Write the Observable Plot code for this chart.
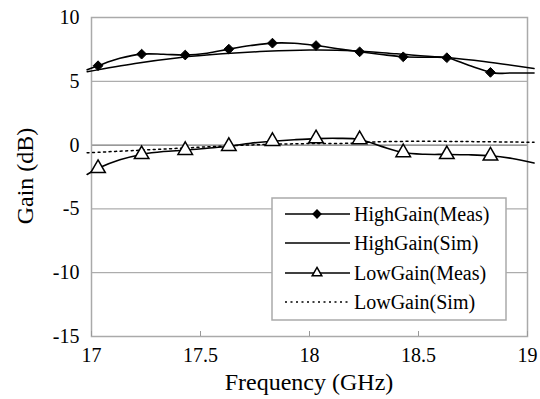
<!DOCTYPE html>
<html>
<head>
<meta charset="utf-8">
<script src="https://cdn.jsdelivr.net/npm/d3@7"></script>
<script src="https://cdn.jsdelivr.net/npm/@observablehq/plot@0.6"></script>
<style>
  html, body { margin: 0; padding: 0; background: #fff; }
  #chart { position: relative; width: 540px; height: 399px; }
  #chart svg, #chart svg text { font-family: "Liberation Serif", "Times New Roman", serif; }
</style>
</head>
<body>
<div id="chart"></div>
<script>
// Frequency (GHz) of the measured points
const measFreq = [17.03, 17.23, 17.43, 17.63, 17.83, 18.03, 18.23, 18.43, 18.63, 18.83];
// Measured gain at those points (dB)
const highMeas = [6.22, 7.13, 7.06, 7.52, 7.99, 7.80, 7.31, 6.92, 6.85, 5.70];
const lowMeas = [-1.82, -0.73, -0.40, -0.09, 0.30, 0.51, 0.44, -0.58, -0.73, -0.84];

// Measured traces (denser sampling of the connecting curves)
const highMeasCurveFreq = [16.98, 17.03, 17.13, 17.23, 17.33, 17.43, 17.53, 17.63, 17.73, 17.83, 17.93, 18.03, 18.13, 18.23, 18.33, 18.43, 18.53, 18.63, 18.73, 18.83, 18.87, 18.92, 19.03];
const highMeasCurve = [5.90, 6.22, 6.80, 7.13, 7.12, 7.06, 7.20, 7.52, 7.80, 7.99, 7.98, 7.80, 7.55, 7.31, 7.10, 6.92, 6.88, 6.85, 6.25, 5.70, 5.62, 5.65, 5.65];
const lowMeasCurveFreq = [16.98, 17.03, 17.13, 17.23, 17.33, 17.43, 17.53, 17.63, 17.73, 17.83, 17.93, 18.03, 18.13, 18.23, 18.33, 18.43, 18.53, 18.63, 18.73, 18.83, 18.93, 19.03];
const lowMeasCurve = [-2.30, -1.82, -1.15, -0.73, -0.50, -0.40, -0.25, -0.09, 0.15, 0.30, 0.42, 0.51, 0.53, 0.44, -0.10, -0.58, -0.72, -0.73, -0.76, -0.84, -1.05, -1.40];

// Simulated traces
const simFreq = [16.98, 17.2, 17.4, 17.6, 17.8, 18.0, 18.2, 18.4, 18.6, 18.8, 19.03];
const highSim = [5.75, 6.40, 6.85, 7.15, 7.35, 7.45, 7.40, 7.15, 6.90, 6.55, 6.00];
const lowSimFreq = [16.98, 17.2, 17.4, 17.6, 17.8, 18.0, 18.2, 18.3, 18.5, 18.7, 19.03];
const lowSim = [-0.60, -0.42, -0.25, -0.08, 0.05, 0.12, 0.15, 0.25, 0.30, 0.28, 0.22];

const xTicks = [17, 17.5, 18, 18.5, 19];
const yTicks = [-15, -10, -5, 0, 5, 10];
const gridValues = [-10, -5, 5];

const seriesNames = ["HighGain(Meas)", "HighGain(Sim)", "LowGain(Meas)", "LowGain(Sim)"];
const xTitle = "Frequency (GHz)";
const yTitle = "Gain (dB)";

const serif = "Liberation Serif";
const zip = (xs, ys) => xs.map((x, i) => ({x, y: ys[i]}));

const chart = Plot.plot({
  width: 540,
  height: 399,
  marginLeft: 91,
  marginRight: 13,
  marginTop: 17,
  marginBottom: 63,
  style: {fontFamily: "'Liberation Serif', 'Times New Roman', serif", fontSize: "20px", color: "#000", background: "#fff"},
  x: {domain: [17, 19]},
  y: {domain: [-15, 10]},
  marks: [
    Plot.ruleY(gridValues, {stroke: "#999", strokeWidth: 1}),
    Plot.ruleY([0], {stroke: "#555", strokeWidth: 1}),
    Plot.frame({stroke: "#aaa", strokeWidth: 1.5}),
    Plot.axisX({ticks: xTicks, tickSize: -5, tickPadding: 16, stroke: "#999", tickFormat: d => String(d),
      fontSize: 20, fontFamily: serif, label: null}),
    Plot.axisY({ticks: yTicks, tickSize: 0, tickPadding: 12, tickFormat: d => String(d),
      fontSize: 20, fontFamily: serif, label: null}),
    Plot.line(zip(lowSimFreq, lowSim), {x: "x", y: "y", stroke: "#000", strokeWidth: 1.5, strokeDasharray: "2,3.5", curve: "catmull-rom"}),
    Plot.line(zip(simFreq, highSim), {x: "x", y: "y", stroke: "#000", strokeWidth: 1.5, curve: "catmull-rom"}),
    Plot.line(zip(highMeasCurveFreq, highMeasCurve), {x: "x", y: "y", stroke: "#000", strokeWidth: 1.6, curve: "catmull-rom"}),
    Plot.line(zip(lowMeasCurveFreq, lowMeasCurve), {x: "x", y: "y", stroke: "#000", strokeWidth: 1.6, curve: "catmull-rom"}),
    Plot.dot(zip(measFreq, highMeas), {x: "x", y: "y", symbol: "diamond2", r: 4.4, fill: "#000", stroke: "#000", strokeWidth: 1}),
    Plot.dot(zip(measFreq, lowMeas), {x: "x", y: "y", symbol: "triangle", r: 5.4, fill: "#fff", stroke: "#000", strokeWidth: 1.5})
  ]
});

document.getElementById("chart").appendChild(chart);

const svg = d3.select(chart);

// Axis titles
svg.append("text").attr("x", 309).attr("y", 390)
  .attr("text-anchor", "middle").attr("font-size", 24).attr("font-family", serif)
  .attr("fill", "#000").text(xTitle);
svg.append("text").attr("transform", "translate(33,176) rotate(-90)")
  .attr("text-anchor", "middle").attr("font-size", 24).attr("font-family", serif)
  .attr("fill", "#000").text(yTitle);

// Legend box
const lg = svg.append("g").attr("transform", "translate(272,198)");
lg.append("rect").attr("width", 234).attr("height", 122)
  .attr("fill", "#fff").attr("stroke", "#aaa").attr("stroke-width", 1.5);
const rowY = [16, 45, 75, 104];
const sym = d3.symbol();
seriesNames.forEach((name, i) => {
  const g = lg.append("g").attr("transform", `translate(0,${rowY[i]})`);
  g.append("line").attr("x1", 13).attr("x2", 78).attr("y1", 0).attr("y2", 0)
    .attr("stroke", "#000").attr("stroke-width", i === 3 ? 1.5 : 1.6)
    .attr("stroke-dasharray", i === 3 ? "2,3.5" : null);
  if (i === 0) {
    g.append("path").attr("transform", "translate(45,0)")
      .attr("d", sym.type(d3.symbolDiamond2).size(Math.PI * 4.4 * 4.4)()).attr("fill", "#000");
  }
  if (i === 2) {
    g.append("path").attr("transform", "translate(45,0)")
      .attr("d", sym.type(d3.symbolTriangle2).size(Math.PI * 4.6 * 4.6)())
      .attr("fill", "#fff").attr("stroke", "#000").attr("stroke-width", 1.5);
  }
  g.append("text").attr("x", 82).attr("y", 0).attr("dy", "0.35em")
    .attr("text-anchor", "start").attr("font-size", 20).attr("font-family", serif)
    .attr("fill", "#000").text(name);
});
</script>
</body>
</html>
